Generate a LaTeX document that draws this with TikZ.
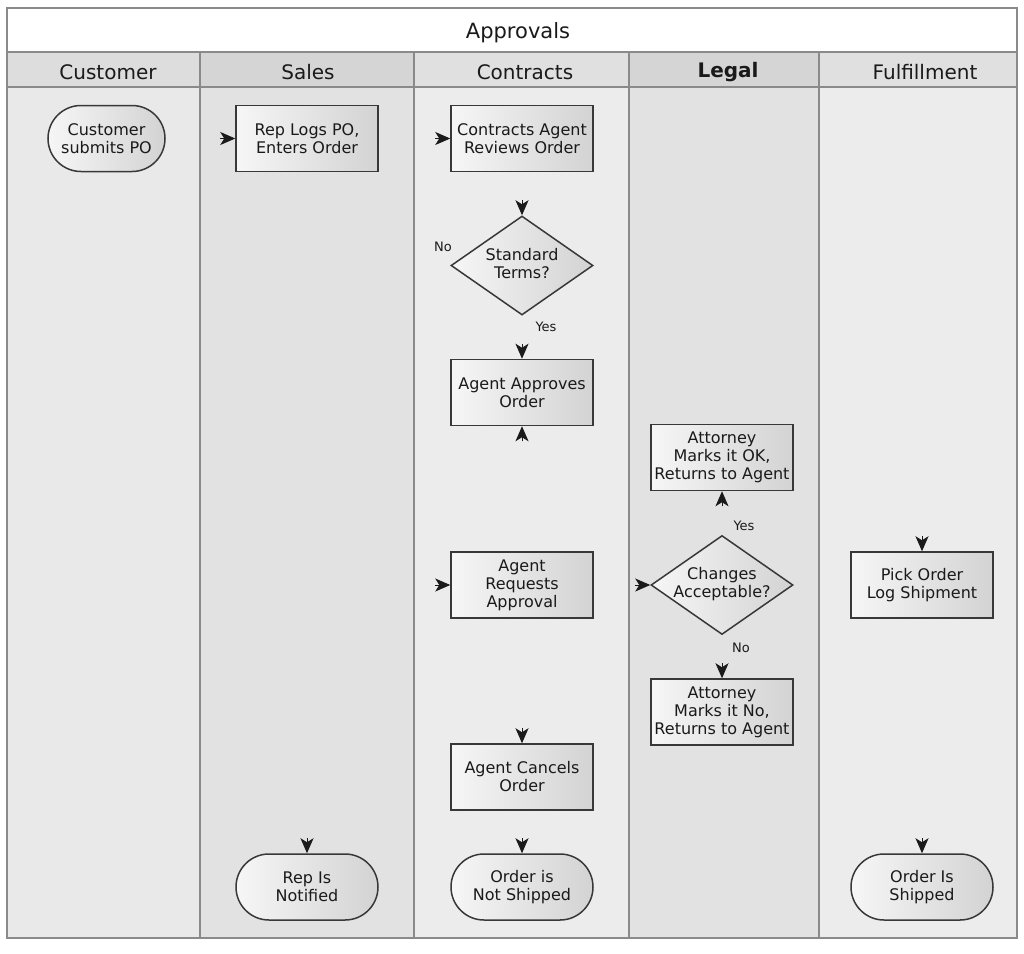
\documentclass[tikz,border=0pt]{standalone}
\usepackage{fontspec}
\setmainfont{DejaVu Sans}
\usetikzlibrary{shapes.geometric,shapes.misc,arrows.meta}
\definecolor{txt}{HTML}{1A1A1A}
\definecolor{edge}{HTML}{383838}
\definecolor{lanel}{HTML}{8A8A8A}
\definecolor{hA}{HTML}{DDDDDD}
\definecolor{hB}{HTML}{D5D5D5}
\definecolor{hC}{HTML}{E0E0E0}
\definecolor{bA}{HTML}{E9E9E9}
\definecolor{bB}{HTML}{E2E2E2}
\definecolor{bC}{HTML}{ECECEC}
\definecolor{shL}{HTML}{F6F6F6}
\definecolor{shR}{HTML}{D3D3D3}
\tikzset{
  x=1bp, y=-1bp,
  nodefont/.style={font=\fontsize{16bp}{18bp}\selectfont, text=txt},
  proc/.style={nodefont, rectangle, draw=edge, line width=1.5bp, left color=shL, right color=shR,
    minimum width=142bp, minimum height=66bp, inner xsep=0bp, inner ysep=2bp, align=center},
  term/.style={nodefont, rounded rectangle, draw=edge, line width=1.5bp, left color=shL, right color=shR,
    minimum width=142bp, minimum height=66bp, inner xsep=0bp, inner ysep=2bp, align=center},
  dec/.style={nodefont, diamond, draw=edge, line width=1.5bp, left color=shL, right color=shR,
    minimum width=142bp, minimum height=99bp, inner sep=0pt, align=center},
  lbl/.style={font=\fontsize{13bp}{15bp}\selectfont, text=txt, inner sep=0pt},
  hdr/.style={font=\fontsize{20bp}{24bp}\selectfont, text=txt, inner sep=0pt},
  lanebox/.style={draw=lanel, line width=1.4bp},
  tipa/.style={-{Stealth[length=15bp, width=13bp, inset=4bp]}, draw=txt, fill=txt, line width=1bp}
}
\begin{document}
\begin{tikzpicture}
\useasboundingbox (0,0) rectangle (1024,954);
\fill[white] (0,0) rectangle (1024,954);
% title band
\draw[lanebox, fill=white] (7,8) rectangle (1017,52);
\node[hdr, font=\fontsize{21bp}{24bp}\selectfont] (title) at (518,32.5) {Approvals};
% lane bodies
\draw[lanebox, fill=bA] (7,87) rectangle (200,938);
\draw[lanebox, fill=bB] (200,87) rectangle (414,938);
\draw[lanebox, fill=bC] (414,87) rectangle (629,938);
\draw[lanebox, fill=bB] (629,87) rectangle (819,938);
\draw[lanebox, fill=bC] (819,87) rectangle (1017,938);
% lane headers
\draw[lanebox, fill=hA] (7,52) rectangle (200,87);
\draw[lanebox, fill=hB] (200,52) rectangle (414,87);
\draw[lanebox, fill=hC] (414,52) rectangle (629,87);
\draw[lanebox, fill=hB] (629,52) rectangle (819,87);
\draw[lanebox, fill=hC] (819,52) rectangle (1017,87);
\node[hdr] (hcust) at (108,72) {Customer};
\node[hdr] (hsales) at (308,72) {Sales};
\node[hdr] (hcontr) at (525,72) {Contracts};
\node[hdr, font=\fontsize{20bp}{24bp}\selectfont\bfseries] (hlegal) at (728,72) {Legal};
\node[hdr] (hfulf) at (925,72) {Fulfillment};
% nodes
\node[term, minimum width=117bp] (cust) at (106.5,138.5) {Customer\\submits PO};
\node[proc] (rep) at (307,138.5) {Rep Logs PO,\\Enters Order};
\node[proc] (rev) at (522,138.5) {Contracts Agent\\Reviews Order};
\node[dec] (std) at (522,265.5) {\makebox[0pt]{\begin{tabular}{@{}c@{}}Standard\\Terms?\end{tabular}}};
\node[proc] (appr) at (522,392.5) {Agent Approves\\Order};
\node[proc] (ok) at (722,457.5) {Attorney\\Marks it OK,\\Returns to Agent};
\node[dec] (chg) at (722,585) {\makebox[0pt]{\begin{tabular}{@{}c@{}}Changes\\Acceptable?\end{tabular}}};
\node[proc] (req) at (522,585) {Agent\\Requests\\Approval};
\node[proc] (nok) at (722,712) {Attorney\\Marks it No,\\Returns to Agent};
\node[proc] (pick) at (922,585) {Pick Order\\Log Shipment};
\node[proc] (canc) at (522,777) {Agent Cancels\\Order};
\node[term] (notship) at (522,887) {Order is\\Not Shipped};
\node[term] (notif) at (307,887) {Rep Is\\Notified};
\node[term] (ship) at (922,887) {Order Is\\Shipped};
% labels
\node[lbl] (lno1) at (443,247) {No};
\node[lbl] (lyes1) at (546,327) {Yes};
\node[lbl] (lyes2) at (744,526) {Yes};
\node[lbl] (lno2) at (741,648) {No};
% arrowheads
\draw[tipa] ([xshift=-15bp]rep.west) -- (rep.west);
\draw[tipa] ([xshift=-15bp]rev.west) -- (rev.west);
\draw[tipa] ([yshift=15bp]std.north) -- (std.north);
\draw[tipa] ([yshift=15bp]appr.north) -- (appr.north);
\draw[tipa] ([yshift=-15bp]appr.south) -- (appr.south);
\draw[tipa] ([yshift=-15bp]ok.south) -- (ok.south);
\draw[tipa] ([xshift=-15bp]chg.west) -- (chg.west);
\draw[tipa] ([yshift=15bp]nok.north) -- (nok.north);
\draw[tipa] ([xshift=-15bp]req.west) -- (req.west);
\draw[tipa] ([yshift=15bp]pick.north) -- (pick.north);
\draw[tipa] ([yshift=15bp]canc.north) -- (canc.north);
\draw[tipa] ([yshift=15bp]notship.north) -- (notship.north);
\draw[tipa] ([yshift=15bp]notif.north) -- (notif.north);
\draw[tipa] ([yshift=15bp]ship.north) -- (ship.north);
\end{tikzpicture}
\end{document}
